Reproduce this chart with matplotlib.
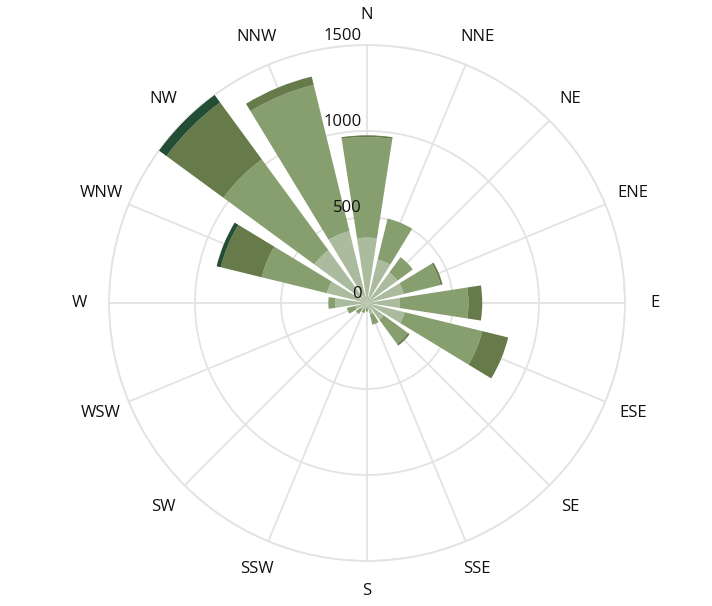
import numpy as np
import matplotlib.pyplot as plt
from matplotlib import transforms as mtransforms

plt.rcParams['font.family'] = ['Open Sans', 'DejaVu Sans']

# wind directions, clockwise from north
directions = ['N', 'NNE', 'NE', 'ENE', 'E', 'ESE', 'SE', 'SSE',
              'S', 'SSW', 'SW', 'WSW', 'W', 'WNW', 'NW', 'NNW']

# stacked counts per direction
layer1 = [380, 260, 220, 220, 190, 225, 120, 70, 30, 35, 45, 70, 185, 240, 380, 430]
layer2 = [585, 245, 110, 220, 400, 465, 175, 60, 20, 25, 35, 50, 40, 390, 655, 875]
layer3 = [10, 0, 0, 12, 80, 155, 12, 0, 0, 0, 0, 0, 0, 245, 410, 50]
layer4 = [0, 0, 0, 0, 0, 0, 0, 0, 0, 0, 0, 0, 0, 25, 55, 0]

layers = [layer1, layer2, layer3, layer4]
colors = ['#abbb9e', '#879e6f', '#677a4a', '#234d34']

radial_ticks = [0, 500, 1000, 1500]
r_max = 1500

fig = plt.figure(figsize=(7.12, 6.06), dpi=100)
ax = fig.add_axes([0.1531, 0.0743, 0.7247, 0.8515], projection='polar')
ax.set_theta_zero_location('N')
ax.set_theta_direction(-1)
ax.set_ylim(0, r_max)

theta = np.arange(len(directions)) * 2 * np.pi / len(directions)
width = 0.78 * 2 * np.pi / len(directions)

bottom = np.zeros(len(directions))
for vals, c in zip(layers, colors):
    vals = np.array(vals, dtype=float)
    ax.bar(theta, vals, width=width, bottom=bottom, color=c,
           edgecolor='none', zorder=3)
    bottom += vals

# grid
ax.set_axisbelow(True)
ax.set_thetagrids(np.degrees(theta), [''] * len(directions))
ax.set_rgrids([500, 1000, 1500], [''] * 3)
ax.grid(True, color='#e3e3e3', linewidth=1.3)
ax.spines['polar'].set_color('#e3e3e3')
ax.spines['polar'].set_linewidth(1.3)
ax.tick_params(length=0)

# direction labels
for t, lab in zip(theta, directions):
    ax.text(t, r_max * 288 / 258, lab, ha='center', va='center',
            fontsize=12, color='#111111', clip_on=False)

# radial labels along north axis
off = mtransforms.offset_copy(ax.transData, fig=fig, x=-5, y=1, units='dots')
for r in radial_ticks:
    ax.text(0, r, str(r), ha='right', va='bottom', fontsize=12,
            color='#111111', transform=off, zorder=5, clip_on=False)

fig.savefig('out.png', dpi=100)
